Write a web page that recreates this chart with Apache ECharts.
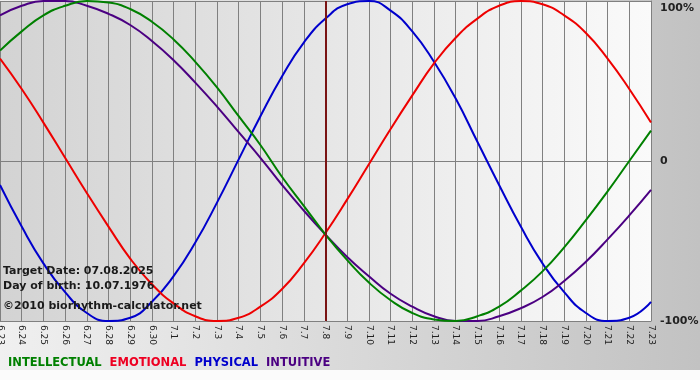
<!DOCTYPE html>
<html>
<head>
<meta charset="utf-8">
<script src="https://cdn.jsdelivr.net/npm/echarts@6/dist/echarts.min.js"></script>
<style>
html, body { margin: 0; padding: 0; }
#chart { width: 700px; height: 380px; }
</style>
</head>
<body>
<div id="chart"></div>
<script>
var days = ['6.23', '6.24', '6.25', '6.26', '6.27', '6.28', '6.29', '6.30',
    '7.1', '7.2', '7.3', '7.4', '7.5', '7.6', '7.7', '7.8', '7.9', '7.10',
    '7.11', '7.12', '7.13', '7.14', '7.15', '7.16', '7.17', '7.18', '7.19',
    '7.20', '7.21', '7.22', '7.23'];
var targetDay = '7.8';

var physical = [-0.15, -0.41, -0.64, -0.82, -0.95, -1.00, -0.98, -0.88, -0.72, -0.51,
    -0.26, 0.01, 0.28, 0.53, 0.74, 0.89, 0.98, 1.00, 0.94, 0.81,
    0.62, 0.39, 0.12, -0.15, -0.41, -0.64, -0.82, -0.95, -1.00, -0.98, -0.88];
var emotional = [0.64, 0.45, 0.24, 0.02, -0.20, -0.41, -0.61, -0.77, -0.89, -0.97,
    -1.00, -0.98, -0.91, -0.80, -0.64, -0.45, -0.24, -0.02, 0.20, 0.41,
    0.61, 0.77, 0.89, 0.97, 1.00, 0.98, 0.91, 0.80, 0.64, 0.45, 0.24];
var intellectual = [0.69, 0.81, 0.91, 0.97, 1.00, 0.99, 0.95, 0.87, 0.76, 0.62,
    0.46, 0.28, 0.10, -0.10, -0.28, -0.46, -0.62, -0.76, -0.87, -0.95,
    -0.99, -1.00, -0.97, -0.91, -0.81, -0.69, -0.54, -0.37, -0.19, 0.00, 0.19];
var intuitive = [0.91, 0.97, 1.00, 1.00, 0.97, 0.92, 0.85, 0.75, 0.63, 0.49,
    0.34, 0.18, 0.02, -0.15, -0.31, -0.46, -0.60, -0.72, -0.83, -0.91,
    -0.97, -1.00, -1.00, -0.97, -0.92, -0.85, -0.75, -0.63, -0.49, -0.34, -0.18];

var infoLines = ['Target Date: 07.08.2025', 'Day of birth: 10.07.1976'];
var copyright = '\u00a92010 biorhythm-calculator.net';

var myChart = echarts.init(document.getElementById('chart'));

function curve(name, color, data) {
    return {
        name: name,
        type: 'line',
        data: data,
        smooth: true,
        symbol: 'none',
        silent: true,
        lineStyle: { color: color, width: 2 },
        itemStyle: { color: color }
    };
}

var series = [
    curve('PHYSICAL', '#0000cc', physical),
    curve('EMOTIONAL', '#ee0000', emotional),
    curve('INTUITIVE', '#4b0082', intuitive),
    curve('INTELLECTUAL', '#008000', intellectual)
];
series[0].markLine = {
    silent: true,
    symbol: 'none',
    label: { show: false },
    lineStyle: { color: '#7a1414', width: 2, type: 'solid' },
    data: [{ xAxis: targetDay }]
};

var option = {
    animation: false,
    backgroundColor: {
        type: 'linear', x: 0, y: 0, x2: 1, y2: 0,
        colorStops: [{ offset: 0, color: '#f0f0f0' }, { offset: 1, color: '#c2c2c2' }]
    },
    textStyle: { fontFamily: 'DejaVu Sans' },
    grid: {
        left: 0,
        top: 1,
        right: 49,
        bottom: 59,
        outerBoundsMode: 'none',
        containLabel: false,
        show: true,
        borderWidth: 0,
        backgroundColor: {
            type: 'linear', x: 0, y: 0, x2: 1, y2: 0,
            colorStops: [{ offset: 0, color: '#d3d3d3' }, { offset: 1, color: '#fafafa' }]
        }
    },
    legend: {
        left: -2,
        top: 351,
        icon: 'none',
        itemWidth: 0,
        itemGap: 3,
        selectedMode: false,
        textStyle: { fontFamily: 'DejaVu Sans', fontWeight: 'bold', fontSize: 11.5 },
        data: [
            { name: 'INTELLECTUAL', textStyle: { color: '#008000' } },
            { name: 'EMOTIONAL', textStyle: { color: '#ee0022' } },
            { name: 'PHYSICAL', textStyle: { color: '#0000cc' } },
            { name: 'INTUITIVE', textStyle: { color: '#4b0082' } }
        ]
    },
    xAxis: {
        type: 'category',
        data: days,
        boundaryGap: false,
        axisLine: { show: true, lineStyle: { color: '#808080', width: 1 } },
        axisTick: { show: true, length: 4, lineStyle: { color: '#808080' } },
        splitLine: { show: true, lineStyle: { color: '#808080', width: 1 } },
        axisLabel: {
            interval: 0,
            rotate: -90,
            margin: 4,
            color: '#222',
            fontSize: 9,
            fontFamily: 'DejaVu Sans'
        }
    },
    yAxis: {
        type: 'value',
        position: 'right',
        min: -1,
        max: 1,
        interval: 1,
        axisLine: { show: true, lineStyle: { color: '#808080' } },
        axisTick: { show: false },
        splitLine: { show: true, lineStyle: { color: '#808080', width: 1 } },
        axisLabel: {
            margin: 9,
            color: '#222',
            fontSize: 11,
            fontWeight: 'bold',
            fontFamily: 'DejaVu Sans',
            formatter: function (v) {
                if (v === 1) return '{top|100%}';
                if (v === -1) return '-100%';
                return '0';
            },
            rich: {
                top: {
                    padding: [15, 0, 0, 0],
                    color: '#222',
                    fontSize: 11,
                    fontWeight: 'bold',
                    fontFamily: 'DejaVu Sans'
                }
            }
        }
    },
    graphic: [
        {
            type: 'rect',
            z: -1,
            silent: true,
            shape: { x: 0, y: 370, width: 700, height: 10 },
            style: { fill: '#fbfbfb' }
        },
        {
            type: 'text',
            left: 3,
            top: 264,
            z: 10,
            silent: true,
            style: {
                text: infoLines.join('\n'),
                fill: '#1a1a1a',
                font: 'bold 11px "DejaVu Sans"',
                lineHeight: 15
            }
        },
        {
            type: 'text',
            left: 3,
            top: 301,
            z: 10,
            silent: true,
            style: {
                text: copyright,
                fill: '#1a1a1a',
                font: 'bold 11px "DejaVu Sans"'
            }
        }
    ],
    series: series
};
myChart.setOption(option);
</script>
</body>
</html>
